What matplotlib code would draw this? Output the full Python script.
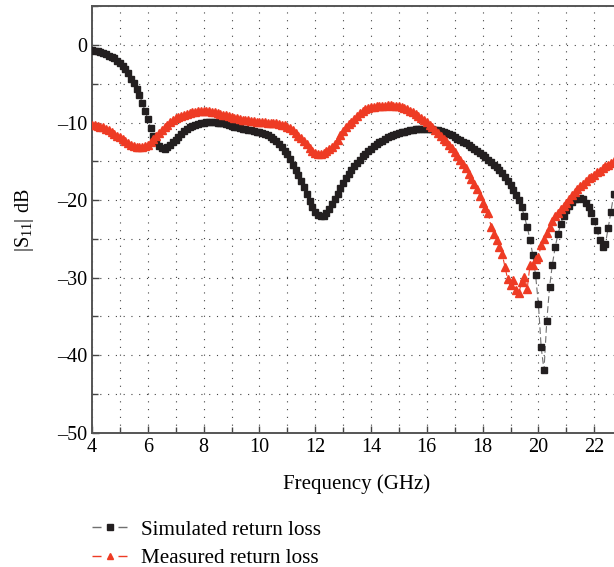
import numpy as np
import matplotlib
matplotlib.use('Agg')
import matplotlib.pyplot as plt
from matplotlib.lines import Line2D
from matplotlib.ticker import MultipleLocator

# frequency points, 0.1 GHz step, 4.0 ... 22.7
freq = np.round(np.arange(4.0, 22.75, 0.1), 1)

# simulated |S11| (dB)
sim_db = [
    -0.6, -0.7, -0.8, -0.9, -1.0, -1.2, -1.35, -1.5, -1.7, -2.0,          # 4.0
    -2.3, -2.7, -3.1, -3.6, -4.3, -4.9, -5.6, -6.4, -7.4, -8.5,           # 5.0
    -9.5, -10.7, -11.7, -12.5, -13.0, -13.3, -13.35, -13.2, -12.9, -12.5,  # 6.0
    -12.2, -11.8, -11.5, -11.1, -10.8, -10.6, -10.45, -10.3, -10.2, -10.1,  # 7.0
    -10.0, -9.95, -9.9, -9.9, -9.95, -10.0, -10.05, -10.1, -10.2, -10.3,   # 8.0
    -10.4, -10.5, -10.6, -10.7, -10.75, -10.85, -10.9, -11.0, -11.1, -11.15,  # 9.0
    -11.2, -11.35, -11.5, -11.65, -11.85, -12.1, -12.4, -12.75, -13.2, -13.6,  # 10.0
    -14.1, -14.7, -15.4, -16.1, -16.8, -17.5, -18.3, -19.2, -20.1, -20.9,  # 11.0
    -21.5, -21.95, -22.1, -22.0, -21.65, -21.15, -20.55, -19.9, -19.15, -18.45,  # 12.0
    -17.75, -17.2, -16.6, -16.1, -15.6, -15.15, -14.75, -14.35, -14.0, -13.65,  # 13.0
    -13.35, -13.05, -12.8, -12.55, -12.3, -12.1, -11.9, -11.75, -11.6, -11.5,  # 14.0
    -11.35, -11.25, -11.15, -11.05, -10.95, -10.9, -10.85, -10.8, -10.75, -10.75,  # 15.0
    -10.75, -10.8, -10.85, -10.9, -11.0, -11.1, -11.2, -11.35, -11.5, -11.65,  # 16.0
    -11.85, -12.05, -12.25, -12.45, -12.65, -12.9, -13.15, -13.4, -13.65, -13.9,  # 17.0
    -14.15, -14.45, -14.75, -15.05, -15.4, -15.75, -16.15, -16.55, -17.0, -17.5,  # 18.0
    -18.1, -18.7, -19.3, -20.0, -20.9, -22.1, -23.5, -25.1, -27.1, -29.7,  # 19.0
    -33.4, -39.0, -41.9, -35.6, -31.2, -28.3, -26.1, -24.4, -23.1, -22.0,  # 20.0
    -21.3, -20.7, -20.2, -19.9, -19.8, -19.75, -19.9, -20.3, -20.9, -21.7,  # 21.0
    -22.7, -23.9, -25.2, -26.1, -25.7, -23.6, -21.5, -19.2,               # 22.0
]

# measured |S11| (dB)
meas_db = [
    -10.3, -10.35, -10.4, -10.5, -10.6, -10.8, -11.0, -11.2, -11.4, -11.7,  # 4.0
    -11.9, -12.1, -12.4, -12.6, -12.85, -13.0, -13.1, -13.15, -13.1, -13.0,  # 5.0
    -12.85, -12.5, -12.1, -11.7, -11.35, -11.0, -10.6, -10.25, -9.95, -9.7,  # 6.0
    -9.45, -9.25, -9.1, -8.95, -8.85, -8.75, -8.65, -8.6, -8.55, -8.5,     # 7.0
    -8.5, -8.5, -8.55, -8.6, -8.65, -8.75, -8.85, -8.95, -9.05, -9.15,     # 8.0
    -9.25, -9.35, -9.45, -9.55, -9.6, -9.65, -9.7, -9.75, -9.8, -9.85,     # 9.0
    -9.9, -9.9, -9.95, -10.0, -10.0, -10.05, -10.1, -10.15, -10.25, -10.35,  # 10.0
    -10.5, -10.7, -11.0, -11.3, -11.7, -12.0, -12.4, -12.8, -13.3, -13.65,  # 11.0
    -13.9, -14.0, -14.0, -13.9, -13.7, -13.4, -13.1, -12.7, -12.2, -11.6,  # 12.0
    -11.1, -10.6, -10.2, -9.85, -9.5, -9.1, -8.75, -8.45, -8.25, -8.1,     # 13.0
    -8.0, -7.95, -7.9, -7.85, -7.8, -7.8, -7.75, -7.75, -7.8, -7.85,       # 14.0
    -7.9, -8.0, -8.1, -8.25, -8.45, -8.65, -8.85, -9.1, -9.35, -9.6,       # 15.0
    -9.9, -10.3, -10.6, -11.0, -11.3, -11.7, -12.1, -12.4, -12.9, -13.3,   # 16.0
    -13.8, -14.3, -14.8, -15.3, -15.9, -16.6, -17.3, -17.9, -18.6, -19.5,  # 17.0
    -20.4, -21.0, -21.6, -23.4, -24.3, -25.2, -26.0, -26.9, -28.6, -30.2,  # 18.0
    -31.0, -30.3, -31.6, -32.0, -30.5, -29.9, -31.4, -28.3, -28.4, -27.6,  # 19.0
    -27.3, -25.8, -25.0, -24.2, -23.4, -22.7, -22.0, -21.6, -21.1, -20.7,  # 20.0
    -20.3, -19.8, -19.3, -18.9, -18.5, -18.2, -17.9, -17.5, -17.2, -16.95,  # 21.0
    -16.7, -16.4, -16.2, -15.9, -15.6, -15.4, -15.2, -15.0,               # 22.0
]

labels = ['Simulated return loss', 'Measured return loss']
x_ticks = [4, 6, 8, 10, 12, 14, 16, 18, 20, 22]
y_ticks = [0, -10, -20, -30, -40, -50]

plt.rcParams['font.family'] = ['Liberation Serif', 'DejaVu Serif']
plt.rcParams['mathtext.fontset'] = 'custom'
plt.rcParams['mathtext.rm'] = 'Liberation Serif'
plt.rcParams['mathtext.it'] = 'Liberation Serif'

W, H = 614, 567
fig = plt.figure(figsize=(W / 100, H / 100), dpi=100)
# axes runs past the right edge of the picture, like the cropped original
ax = fig.add_axes([92 / W, 1 - 432.7 / H, 558 / W, (432.7 - 6.45) / H])

black = '#231f20'
red = '#ee3b24'
gray = '#707070'
ax.plot(freq, sim_db, linestyle=(0, (6, 3)), color=gray, linewidth=0.8,
        marker='s', markersize=5.0, markerfacecolor=black, markeredgecolor=black,
        zorder=3)
ax.plot(freq, meas_db, linestyle=(0, (6, 3)), color=red, linewidth=0.8,
        marker='^', markersize=6.0, markerfacecolor=red, markeredgecolor=red,
        zorder=4)

ax.set_xlim(4, 24)
ax.set_ylim(-50, 5)
ax.set_xticks(x_ticks)
ax.set_yticks(y_ticks)
ax.xaxis.set_minor_locator(MultipleLocator(1))
ax.yaxis.set_minor_locator(MultipleLocator(5))
ax.tick_params(which='both', direction='in', labelsize=14.5, color='#444444',
               width=1)
ax.tick_params(which='major', length=5)
ax.tick_params(which='minor', length=4)
ax.set_yticklabels([str(t).replace('-', '\u2013') for t in y_ticks])

ax.grid(which='both', linestyle=(0, (1, 6)), color='#444444', linewidth=0.8)
for s in ['left', 'bottom', 'top']:
    ax.spines[s].set_color('#555555')
    ax.spines[s].set_linewidth(1.4)
ax.spines['right'].set_visible(False)

fig.text(357 / W, 1 - 484 / H, 'Frequency (GHz)', ha='center', va='center',
         fontsize=15)
fig.text(25 / W, 1 - 220 / H, '|S$_{11}$| dB', ha='center', va='center',
         rotation=90, fontsize=14.5)

# legend handles: dash - marker - dash
h_sim = Line2D([], [], color=gray, linewidth=1, linestyle=(0, (6.5, 12.2)),
               marker='s', markersize=4, markerfacecolor=black,
               markeredgecolor=black)
h_meas = Line2D([], [], color=red, linewidth=1, linestyle=(0, (6.5, 12.2)),
                marker='^', markersize=5, markerfacecolor=red,
                markeredgecolor=red)
fig.legend([h_sim, h_meas], labels, loc='upper left',
           bbox_to_anchor=(92 / W, 1 - 520 / H),
           frameon=False, fontsize=15.2, numpoints=1,
           handlelength=1.68, handletextpad=0.62, labelspacing=0.42,
           borderpad=0, borderaxespad=0)

fig.savefig('out.png', dpi=100)
